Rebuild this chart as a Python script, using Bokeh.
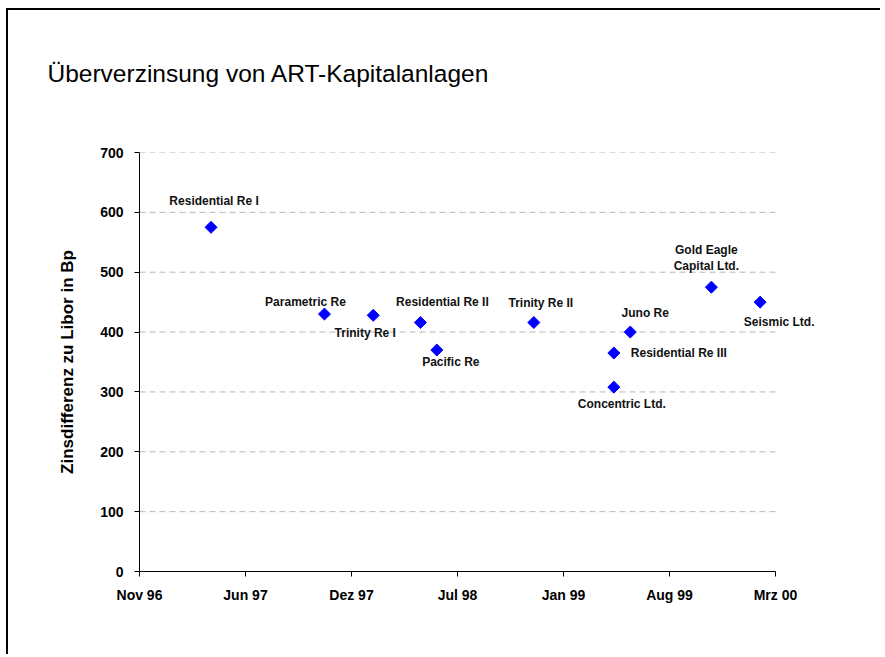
import numpy as np
import pandas as pd
from bokeh.plotting import figure
from bokeh.models import ColumnDataSource, Range1d, FixedTicker, Title
from bokeh.core.properties import value
from bokeh.embed import file_html
from bokeh.resources import INLINE

# ---- data ----
names = ["Residential Re I", "Parametric Re", "Trinity Re I", "Residential Re II",
         "Pacific Re", "Trinity Re II", "Residential Re III", "Concentric Ltd.",
         "Juno Re", "Gold Eagle\nCapital Ltd.", "Seismic Ltd."]
dates = ["1997-04-01", "1997-11-01", "1998-02-01", "1998-05-01", "1998-06-01",
         "1998-12-01", "1999-05-01", "1999-05-01", "1999-06-01", "1999-11-01",
         "2000-02-01"]
spreads = [575, 430, 428, 416, 370, 416, 365, 308, 400, 475, 450]

tick_dates = ["1996-11-17", "1997-06-05", "1997-12-22", "1998-07-10",
              "1999-01-26", "1999-08-14", "2000-03-01"]
tick_labels = ["Nov 96", "Jun 97", "Dez 97", "Jul 98", "Jan 99", "Aug 99", "Mrz 00"]
y_ticks = [0, 100, 200, 300, 400, 500, 600, 700]

# ---- label placement (screen pixel offsets, layout only) ----
label_dx = [3, -19, -8, 22, 14, 7, 65, 8, 15, -5, 19]
label_dy = [-26, -12, 18, -20, 12, -19, 0, 17, -19, -29, 20]

FONT = "Liberation Sans"

def to_ms(s):
    return pd.Timestamp(s).value / 1e6

tick_ms = [to_ms(d) for d in tick_dates]
# axis spans 636 px for the tick range; extend the frame 60 px to the right
# (invisible) so that labels near the right edge are not clipped
ms_per_px = (tick_ms[-1] - tick_ms[0]) / 636.0
x_end = tick_ms[-1] + 60 * ms_per_px

src = ColumnDataSource(dict(
    x=pd.to_datetime(dates),
    y=spreads,
    name=names,
    dx=label_dx,
    dy=label_dy,
))

p = figure(width=874, height=646, x_axis_type="datetime",
           output_backend="svg", toolbar_location=None,
           x_range=Range1d(tick_ms[0], x_end),
           y_range=Range1d(0, 700),
           min_border_left=131, min_border_top=0,
           min_border_right=47, min_border_bottom=85)
p.styles = {"border-left": "2px solid black", "border-top": "2px solid black",
            "margin-left": "6px", "margin-top": "8px"}
p.outline_line_color = None
p.background_fill_color = "white"
p.border_fill_color = "white"

# spacer between the frame and the title (sits nearest the frame)
spacer = Title(text=" ", text_font_size="10px", standoff=5)
p.add_layout(spacer, "above")

# title (outermost)
p.title.text = "Überverzinsung von ART-Kapitalanlagen"
p.title.text_font = FONT
p.title.text_font_size = "24.5px"
p.title.text_font_style = "normal"
p.title.text_color = "black"
p.title.align = "left"
p.title.vertical_align = "bottom"
p.title.offset = -92
p.title.standoff = 95

# horizontal dashed grid lines, limited to the axis extent
p.xgrid.visible = False
p.ygrid.visible = False
grid_y = y_ticks[1:]
p.segment(x0=[tick_ms[0]] * len(grid_y), x1=[tick_ms[-1]] * len(grid_y),
          y0=grid_y, y1=grid_y, line_color="#b8b8b8", line_dash="6 4",
          line_width=1)

# axes
xa = p.xaxis[0]
xa.ticker = FixedTicker(ticks=tick_ms)
xa.bounds = (tick_ms[0], tick_ms[-1])
xa.major_label_overrides = {t: l for t, l in zip(tick_ms, tick_labels)}
ya = p.yaxis[0]
ya.ticker = FixedTicker(ticks=y_ticks)
for ax in (xa, ya):
    ax.axis_line_color = "black"
    ax.axis_line_width = 1
    ax.major_tick_line_color = "black"
    ax.major_tick_in = 0
    ax.major_tick_out = 5
    ax.minor_tick_line_color = None
    ax.major_label_text_font = FONT
    ax.major_label_text_font_style = "bold"
    ax.major_label_text_font_size = "14px"
    ax.major_label_text_color = "black"
xa.major_label_standoff = 10
ya.major_label_standoff = 11
ya.axis_label = "Zinsdifferenz zu Libor in Bp"
ya.axis_label_text_font = FONT
ya.axis_label_text_font_style = "bold"
ya.axis_label_text_font_size = "17px"
ya.axis_label_text_color = "black"
ya.axis_label_standoff = 20

# points
p.scatter("x", "y", source=src, marker="square", angle=np.pi / 4, size=8.5,
          fill_color="#0000FF", line_color="#0000FF")

# point labels
p.text("x", "y", text="name", source=src, x_offset="dx", y_offset="dy",
       text_font=value(FONT), text_font_style="bold", text_font_size="12px",
       text_color="#111111", text_align="center", text_baseline="middle",
       text_line_height=1.1)

open("out.html", "w").write(file_html(p, INLINE))
